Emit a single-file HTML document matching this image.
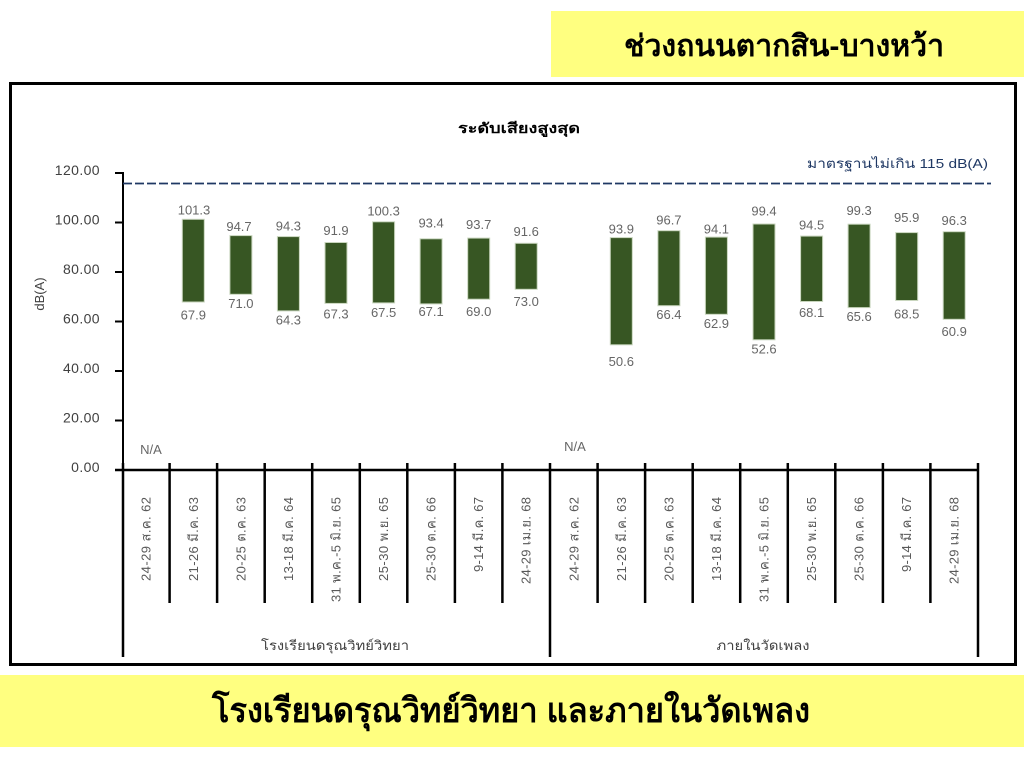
<!DOCTYPE html>
<html>
<head>
<meta charset="utf-8">
<style>
  html,body{margin:0;padding:0;background:#fff;}
  svg{display:block;}
  text{font-family:"Liberation Sans","DejaVu Sans","Noto Sans CJK SC",sans-serif;}
</style>
</head>
<body>
<svg width="1024" height="768" viewBox="0 0 1024 768" xmlns="http://www.w3.org/2000/svg">
  <rect x="0" y="0" width="1024" height="768" fill="#ffffff"/>

  <!-- top yellow banner -->
  <rect x="551" y="11" width="473" height="66" fill="#FFFF80"/>
  <text x="784" y="56" font-size="30" font-weight="bold" text-anchor="middle" fill="#000" textLength="320" lengthAdjust="spacingAndGlyphs">ช่วงถนนตากสิน-บางหว้า</text>

  <!-- chart frame -->
  <rect x="10.5" y="83.5" width="1005" height="581" fill="#fff" stroke="#000" stroke-width="3"/>

  <!-- chart title -->
  <text x="519" y="133" font-size="14" font-weight="bold" text-anchor="middle" fill="#000" textLength="122" lengthAdjust="spacingAndGlyphs">ระดับเสียงสูงสุด</text>

  <!-- y axis label -->
  <text transform="translate(44,294) rotate(-90)" font-size="13" text-anchor="middle" fill="#404040">dB(A)</text>

  <!-- y ticks and labels -->
  <g stroke="#000" stroke-width="2">
    <line x1="123" y1="172" x2="123" y2="470"/>
    <line x1="115" y1="173" x2="123" y2="173"/>
    <line x1="115" y1="222.5" x2="123" y2="222.5"/>
    <line x1="115" y1="272" x2="123" y2="272"/>
    <line x1="115" y1="321.5" x2="123" y2="321.5"/>
    <line x1="115" y1="371" x2="123" y2="371"/>
    <line x1="115" y1="420.5" x2="123" y2="420.5"/>
  </g>
  <g font-size="14" fill="#404040" text-anchor="end" letter-spacing="0.4">
    <text x="100" y="175">120.00</text>
    <text x="100" y="224.5">100.00</text>
    <text x="100" y="274">80.00</text>
    <text x="100" y="323.5">60.00</text>
    <text x="100" y="373">40.00</text>
    <text x="100" y="422.5">20.00</text>
    <text x="100" y="472">0.00</text>
  </g>

  <!-- standard line -->
  <line x1="123" y1="183.5" x2="991" y2="183.5" stroke="#1F3864" stroke-width="1.8" stroke-dasharray="9 3"/>
  <text x="988" y="168" font-size="13" fill="#1F3864" text-anchor="end" textLength="181" lengthAdjust="spacingAndGlyphs">มาตรฐานไม่เกิน 115 dB(A)</text>

  <!-- bars -->
  <g fill="#375623" stroke="#C9D6BE" stroke-width="1">
    <rect x="182.3" y="219.3" width="22" height="82.7"/>
    <rect x="229.9" y="235.6" width="22" height="58.7"/>
    <rect x="277.4" y="236.6" width="22" height="74.3"/>
    <rect x="325.0" y="242.5" width="22" height="60.9"/>
    <rect x="372.6" y="221.8" width="22" height="81.1"/>
    <rect x="420.1" y="238.8" width="22" height="65.1"/>
    <rect x="467.7" y="238.1" width="22" height="61.1"/>
    <rect x="515.2" y="243.3" width="22" height="46.0"/>

    <rect x="610.3" y="237.6" width="22" height="107.2"/>
    <rect x="657.9" y="230.7" width="22" height="75.0"/>
    <rect x="705.4" y="237.1" width="22" height="77.2"/>
    <rect x="753.0" y="224.0" width="22" height="115.8"/>
    <rect x="800.6" y="236.1" width="22" height="65.4"/>
    <rect x="848.1" y="224.2" width="22" height="83.4"/>
    <rect x="895.7" y="232.6" width="22" height="67.9"/>
    <rect x="943.2" y="231.7" width="22" height="87.6"/>
  </g>

  <!-- value labels -->
  <g font-size="13" fill="#666666" text-anchor="middle">
    <text x="194" y="214.5">101.3</text><text x="193.3" y="319.5">67.9</text>
    <text x="239" y="231.2">94.7</text><text x="240.9" y="307.8">71.0</text>
    <text x="288.4" y="230.5">94.3</text><text x="288.4" y="324.5">64.3</text>
    <text x="336" y="235.2">91.9</text><text x="336" y="318.5">67.3</text>
    <text x="383.6" y="215.5">100.3</text><text x="383.6" y="317.2">67.5</text>
    <text x="431.1" y="227.5">93.4</text><text x="431.1" y="316.2">67.1</text>
    <text x="478.7" y="229.2">93.7</text><text x="478.7" y="316.2">69.0</text>
    <text x="526.2" y="236.2">91.6</text><text x="526.2" y="306.2">73.0</text>

    <text x="621.3" y="233.5">93.9</text><text x="621.3" y="366.2">50.6</text>
    <text x="668.9" y="224.5">96.7</text><text x="668.9" y="318.8">66.4</text>
    <text x="716.4" y="233.5">94.1</text><text x="716.4" y="327.8">62.9</text>
    <text x="764" y="215.5">99.4</text><text x="764" y="353.5">52.6</text>
    <text x="811.6" y="229.5">94.5</text><text x="811.6" y="317.2">68.1</text>
    <text x="859.1" y="215.2">99.3</text><text x="859.1" y="321.2">65.6</text>
    <text x="906.7" y="222.2">95.9</text><text x="906.7" y="318.5">68.5</text>
    <text x="954.2" y="225.2">96.3</text><text x="954.2" y="336.2">60.9</text>

    <text x="151" y="454">N/A</text>
    <text x="575" y="451">N/A</text>
  </g>

  <!-- x axis and dividers -->
  <g stroke="#000" stroke-width="2.5">
    <line x1="115" y1="470" x2="979" y2="470"/>
    <line x1="123" y1="463" x2="123" y2="657"/>
    <line x1="550" y1="463" x2="550" y2="657"/>
    <line x1="978" y1="463" x2="978" y2="657"/>
    <line x1="169.6" y1="463" x2="169.6" y2="603"/>
    <line x1="217.1" y1="463" x2="217.1" y2="603"/>
    <line x1="264.7" y1="463" x2="264.7" y2="603"/>
    <line x1="312.2" y1="463" x2="312.2" y2="603"/>
    <line x1="359.8" y1="463" x2="359.8" y2="603"/>
    <line x1="407.3" y1="463" x2="407.3" y2="603"/>
    <line x1="454.9" y1="463" x2="454.9" y2="603"/>
    <line x1="502.4" y1="463" x2="502.4" y2="603"/>
    <line x1="597.6" y1="463" x2="597.6" y2="603"/>
    <line x1="645.1" y1="463" x2="645.1" y2="603"/>
    <line x1="692.7" y1="463" x2="692.7" y2="603"/>
    <line x1="740.2" y1="463" x2="740.2" y2="603"/>
    <line x1="787.8" y1="463" x2="787.8" y2="603"/>
    <line x1="835.3" y1="463" x2="835.3" y2="603"/>
    <line x1="882.9" y1="463" x2="882.9" y2="603"/>
    <line x1="930.4" y1="463" x2="930.4" y2="603"/>
  </g>

  <!-- category labels (rotated) -->
  <g font-size="13" fill="#595959" text-anchor="end" lengthAdjust="spacingAndGlyphs">
    <text transform="translate(150.3,497) rotate(-90)" textLength="84">24-29 ส.ค. 62</text>
    <text transform="translate(197.8,497) rotate(-90)" textLength="84">21-26 มี.ค. 63</text>
    <text transform="translate(245.4,497) rotate(-90)" textLength="84">20-25 ต.ค. 63</text>
    <text transform="translate(292.9,497) rotate(-90)" textLength="84">13-18 มี.ค. 64</text>
    <text transform="translate(340.5,497) rotate(-90)" textLength="105">31 พ.ค.-5 มิ.ย. 65</text>
    <text transform="translate(388.1,497) rotate(-90)" textLength="84">25-30 พ.ย. 65</text>
    <text transform="translate(435.6,497) rotate(-90)" textLength="84">25-30 ต.ค. 66</text>
    <text transform="translate(483.2,497) rotate(-90)" textLength="75">9-14 มี.ค. 67</text>
    <text transform="translate(530.7,497) rotate(-90)" textLength="87">24-29 เม.ย. 68</text>
    <text transform="translate(578.3,497) rotate(-90)" textLength="84">24-29 ส.ค. 62</text>
    <text transform="translate(625.8,497) rotate(-90)" textLength="84">21-26 มี.ค. 63</text>
    <text transform="translate(673.4,497) rotate(-90)" textLength="84">20-25 ต.ค. 63</text>
    <text transform="translate(720.9,497) rotate(-90)" textLength="84">13-18 มี.ค. 64</text>
    <text transform="translate(768.5,497) rotate(-90)" textLength="105">31 พ.ค.-5 มิ.ย. 65</text>
    <text transform="translate(816.1,497) rotate(-90)" textLength="84">25-30 พ.ย. 65</text>
    <text transform="translate(863.6,497) rotate(-90)" textLength="84">25-30 ต.ค. 66</text>
    <text transform="translate(911.2,497) rotate(-90)" textLength="75">9-14 มี.ค. 67</text>
    <text transform="translate(958.7,497) rotate(-90)" textLength="87">24-29 เม.ย. 68</text>
  </g>

  <!-- group labels -->
  <text x="335" y="650" font-size="13" fill="#404040" text-anchor="middle" textLength="148" lengthAdjust="spacingAndGlyphs">โรงเรียนดรุณวิทย์วิทยา</text>
  <text x="763" y="650" font-size="13" fill="#404040" text-anchor="middle" textLength="93" lengthAdjust="spacingAndGlyphs">ภายในวัดเพลง</text>

  <!-- bottom yellow banner -->
  <rect x="0" y="675" width="1024" height="72" fill="#FFFF80"/>
  <text x="511" y="722" font-size="34" font-weight="bold" text-anchor="middle" fill="#000" textLength="598" lengthAdjust="spacingAndGlyphs">โรงเรียนดรุณวิทย์วิทยา และภายในวัดเพลง</text>
</svg>
</body>
</html>
